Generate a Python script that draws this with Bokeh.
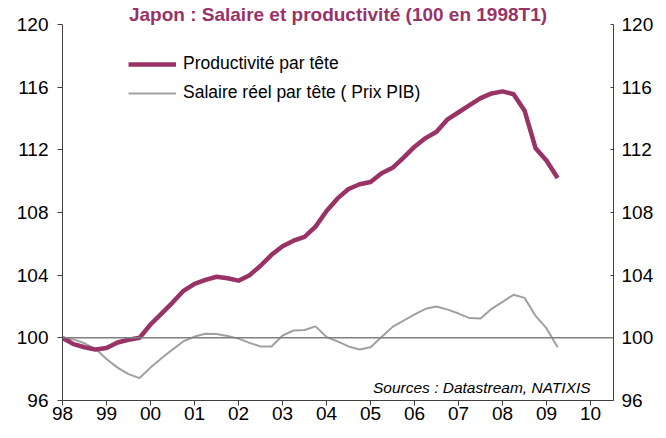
from bokeh.plotting import figure
from bokeh.models import (Range1d, LinearAxis, FixedTicker, Legend, LegendItem,
                          Label, Span, ColumnDataSource)
from bokeh.embed import file_html
from bokeh.resources import INLINE

# ---- data (quarterly, 1998T1 .. 2009T2) ----
start_year = 1998
productivite = [100.0, 99.6, 99.4, 99.25, 99.35, 99.7, 99.88, 100.0,
                100.85, 101.55, 102.25, 103.0, 103.45, 103.7, 103.9, 103.8,
                103.65, 104.0, 104.6, 105.3, 105.85, 106.2, 106.45, 107.1,
                108.1, 108.9, 109.5, 109.8, 109.95, 110.5, 110.85, 111.5,
                112.2, 112.75, 113.15, 113.95, 114.4, 114.85, 115.3, 115.6,
                115.73, 115.55, 114.5, 112.1, 111.3, 110.2]
salaire = [100.0, 99.9, 99.65, 99.3, 98.65, 98.1, 97.68, 97.43,
           98.1, 98.7, 99.25, 99.78, 100.08, 100.26, 100.25, 100.12,
           99.95, 99.68, 99.45, 99.45, 100.15, 100.47, 100.5, 100.73,
           100.05, 99.77, 99.45, 99.25, 99.4, 100.05, 100.7, 101.1,
           101.5, 101.85, 102.0, 101.8, 101.55, 101.26, 101.24, 101.85,
           102.3, 102.75, 102.55, 101.4, 100.6, 99.4]
years = list(range(1998, 2011))
year_labels = ["98", "99", "00", "01", "02", "03", "04", "05", "06", "07", "08", "09", "10"]
y_ticks = [96, 100, 104, 108, 112, 116, 120]
title_text = "Japon : Salaire et productivité (100 en 1998T1)"
source_text = "Sources : Datastream, NATIXIS"
legend_labels = ["Productivité par tête", "Salaire réel par tête ( Prix PIB)"]

quarters = [start_year + k / 4 for k in range(len(productivite))]
src = ColumnDataSource(dict(x=quarters, prod=productivite, sal=salaire))

PLUM = "#993366"
GREY = "#a0a0a0"
FONT = "Liberation Sans"

p = figure(width=666, height=438, output_backend="svg", toolbar_location=None,
           x_range=Range1d(1998, 2010.52), y_range=Range1d(96, 120),
           min_border_left=62, min_border_right=53, min_border_top=24,
           min_border_bottom=38, outline_line_color=None,
           background_fill_color="white", border_fill_color="white")
p.xgrid.visible = False
p.ygrid.visible = False

# title
p.title.text = title_text
p.title.align = "center"
p.title.text_font = FONT
p.title.text_font_size = "19px"
p.title.text_font_style = "bold"
p.title.text_color = PLUM
p.title.standoff = 0
p.title.offset = 0

# reference line at 100
p.add_layout(Span(location=100, dimension="width", line_color="#7f7f7f", line_width=1.5))

r_sal = p.line("x", "sal", source=src, line_color=GREY, line_width=2)
r_prod = p.line("x", "prod", source=src, line_color=PLUM, line_width=4.5, line_join="round")

# axes
def style_axis(ax):
    ax.axis_line_color = "#404040"
    ax.major_tick_line_color = "#404040"
    ax.minor_tick_line_color = None
    ax.major_label_text_font = FONT
    ax.major_label_text_font_size = "19px"
    ax.major_label_text_color = "black"

xa = p.xaxis[0]
xa.ticker = FixedTicker(ticks=years)
xa.major_label_overrides = {y: l for y, l in zip(years, year_labels)}
style_axis(xa)
xa.major_tick_out = 5
xa.major_tick_in = 0
xa.major_label_standoff = 1

ya = p.yaxis[0]
ya.ticker = FixedTicker(ticks=y_ticks)
style_axis(ya)
ya.major_tick_out = 5
ya.major_tick_in = 0
ya.major_label_standoff = 9

yr = LinearAxis(ticker=FixedTicker(ticks=y_ticks))
style_axis(yr)
yr.major_tick_out = 0
yr.major_tick_in = 3
yr.major_label_standoff = 8
p.add_layout(yr, "right")

# legend
legend = Legend(items=[LegendItem(label=legend_labels[0], renderers=[r_prod]),
                       LegendItem(label=legend_labels[1], renderers=[r_sal])],
                location=(66, 297), orientation="vertical",
                glyph_width=48, glyph_height=20, label_height=20,
                label_standoff=7, spacing=8, padding=0, margin=0,
                border_line_color=None, background_fill_alpha=0,
                label_text_font=FONT, label_text_font_size="17.5px",
                label_text_color="black")
p.add_layout(legend)

# source note
p.add_layout(Label(x=2010.0, y=96.83, text=source_text, text_align="right",
                   text_baseline="alphabetic", text_font=FONT,
                   text_font_size="15.5px", text_font_style="italic",
                   text_color="black"))

open("out.html", "w").write(file_html(p, INLINE))
